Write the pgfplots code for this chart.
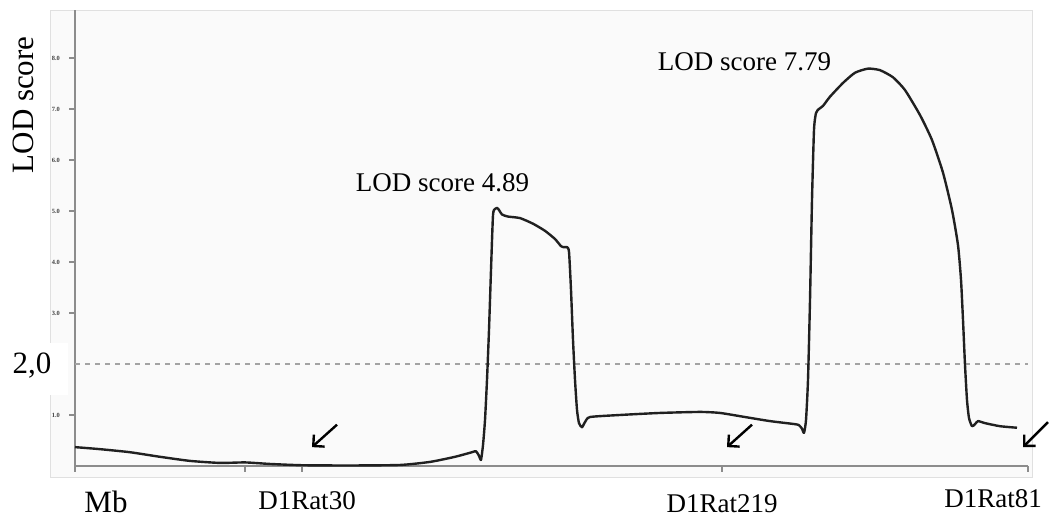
\documentclass[border=0pt]{standalone}
\usepackage{pgfplots}
\pgfplotsset{compat=1.18}
\usepackage{fontspec}
\setmainfont{Liberation Serif}
\usetikzlibrary{arrows.meta}

\definecolor{panel}{HTML}{FAFAFA}
\definecolor{axisgray}{HTML}{8C8C8C}
\definecolor{curve}{HTML}{202020}

% LOD profile along the chromosome (position, LOD)
\pgfplotstableread{
x y
0 0.37
25 0.33
55 0.27
85 0.18
115 0.10
145 0.06
170 0.07
195 0.04
227 0.015
275 0.01
325 0.02
355 0.08
380 0.18
397 0.27
401 0.29
404 0.20
406 0.12
408 0.41
410 0.90
412 1.69
414 2.67
416 3.84
418 4.92
420 5.04
422 5.06
424 5.02
427 4.93
433 4.89
445 4.86
458 4.75
470 4.61
480 4.45
486 4.31
489 4.29
492 4.29
494 4.20
496 3.45
498 2.47
500 1.69
502 1.10
504 0.84
507 0.76
510 0.86
515 0.96
545 1.00
585 1.04
625 1.06
645 1.04
670 0.96
695 0.88
720 0.82
724 0.80
727 0.73
729 0.65
731 0.90
733 1.69
735 3.25
737 5.22
739 6.59
741 6.92
744 7.00
748 7.06
755 7.24
768 7.51
780 7.71
793 7.79
805 7.76
818 7.62
830 7.37
845 6.88
857 6.39
868 5.75
877 5.02
883 4.33
886 3.65
888 2.86
890 1.98
892 1.29
894 0.94
897 0.78
900 0.82
903 0.88
910 0.84
925 0.78
942 0.75
}\lodtable

\begin{document}
\begin{tikzpicture}[font=\fontsize{15.5}{18}\selectfont]
\useasboundingbox (-37.5pt,-25.5pt) rectangle (487pt,233pt);
% light panel behind the plot
\fill[panel, draw=black!12, line width=0.4pt] (-12.5pt,-5.5pt) rectangle (478.5pt,228pt);
\begin{axis}[
  at={(0,0)}, anchor=origin,
  scale only axis,
  width=476.5pt, height=228pt,
  xmin=0, xmax=953, ymin=0, ymax=8.94,
  axis x line=bottom, axis y line=left,
  axis line style={-, axisgray, line width=1.1pt},
  clip=false,
  ytick={1,3,4,5,6,7,8},
  xtick={0,170,227,647,953},
  xticklabels={},
  tick align=outside,
  major tick length=3pt,
  tick style={axisgray, line width=0.6pt},
  yticklabel style={font=\fontsize{3.2}{4}\selectfont\bfseries, text=black!75, xshift=-1pt},
  y tick label style={/pgf/number format/.cd, fixed, fixed zerofill, precision=1, assume math mode=true},
]
\addplot[axisgray!80, line width=0.8pt, dash pattern=on 2.5pt off 2.5pt] coordinates {(0,2) (953,2)};
\addplot[curve, line width=1.2pt, smooth, tension=0.35, line join=round] table {\lodtable};

% threshold label on a white patch
\fill[white] (axis cs:-75,1.39) rectangle (axis cs:-7,2.41);
\node at (axis cs:-43,1.96) {2,0};

\node[rotate=90] at (axis cs:-52,7.08) {LOD score};
\node[font=\fontsize{13.5}{16}\selectfont] at (axis cs:367.5,5.55) {LOD score 4.89};
\node[font=\fontsize{13.5}{16}\selectfont] at (axis cs:669.5,7.92) {LOD score 7.79};

\node[inner sep=1pt] at (axis cs:31,-0.71) {Mb};
\node[font=\fontsize{13.5}{16}\selectfont] at (axis cs:232,-0.67) {D1Rat30};
\node[font=\fontsize{13.5}{16}\selectfont, inner sep=1pt] at (axis cs:647,-0.74) {D1Rat219};
\node[font=\fontsize{13.5}{16}\selectfont] at (axis cs:918,-0.65) {D1Rat81};

\draw[black, line width=1.2pt, -{Straight Barb[length=4pt, width=8pt]}] (axis cs:262,0.81) -- (axis cs:237,0.37);
\draw[black, line width=1.2pt, -{Straight Barb[length=4pt, width=8pt]}] (axis cs:677,0.81) -- (axis cs:652,0.37);
\draw[black, line width=1.2pt, -{Straight Barb[length=4pt, width=8pt]}] (axis cs:973,0.86) -- (axis cs:948,0.37);
\end{axis}
\end{tikzpicture}
\end{document}
